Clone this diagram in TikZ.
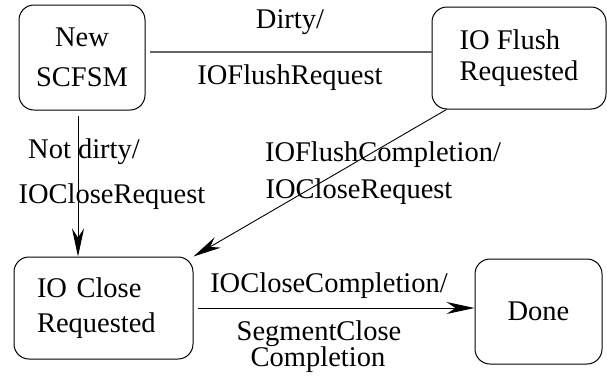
\documentclass[tikz,border=0pt]{standalone}
\usepackage{fontspec}
\newfontfamily\figfont{Liberation Serif}
\usetikzlibrary{arrows.meta,positioning}
\tikzset{state/.style={draw,rounded corners=15pt,line width=1pt,inner sep=0pt,align=left},
  trans/.style={line width=0.9pt,-{Stealth[length=28pt,width=12pt,inset=9pt]}}}

\begin{document}
\begin{tikzpicture}[x=1pt,y=-1pt,font=\figfont\fontsize{28.5}{33}\selectfont,inner sep=0pt]
\useasboundingbox (0,0) rectangle (607,378);
\node[state,align=center,minimum width=126pt,minimum height=105pt] (N) at (82,57.5) {New\\[7pt]SCFSM};
\node[state,minimum width=174pt,minimum height=102pt] (F) at (519,58) {IO Flush\\[-2pt]Requested};
\node[state,text width=133pt,minimum width=179pt,minimum height=102pt] (C) at (103.5,308) {IO Close\\[2pt]Requested};
\node[state,minimum width=127pt,minimum height=105pt] (D) at (538.5,311.5) {Done};
\node (d1) at (290,22) {Dirty/};
\node (d2) at (290,78) {IOFlushRequest};
\node (n1) at (84,152) {Not dirty/};
\node (n2) at (112,197) {IOCloseRequest};
\node (f1) at (383,155) {IOFlushCompletion/};
\node (f2) at (359,192) {IOCloseRequest};
\node (c1) at (329,286) {IOCloseCompletion/};
\node (c2) at (319,334) {SegmentClose};
\node (c3) at (318,360) {Completion};
\draw[line width=1.2pt,black!60,shorten <=4pt] ([yshift=5.5pt]N.east) -- ([yshift=6pt]F.west);
\draw[trans,shorten <=5pt] ([xshift=-4pt]N.south) -- ([xshift=-25.5pt]C.north);
\draw[trans] ([xshift=15pt]F.south west) -- (C.north east);
\draw[trans,shorten <=4pt] (C.east) -- (C.east -| D.west);
\end{tikzpicture}
\end{document}
